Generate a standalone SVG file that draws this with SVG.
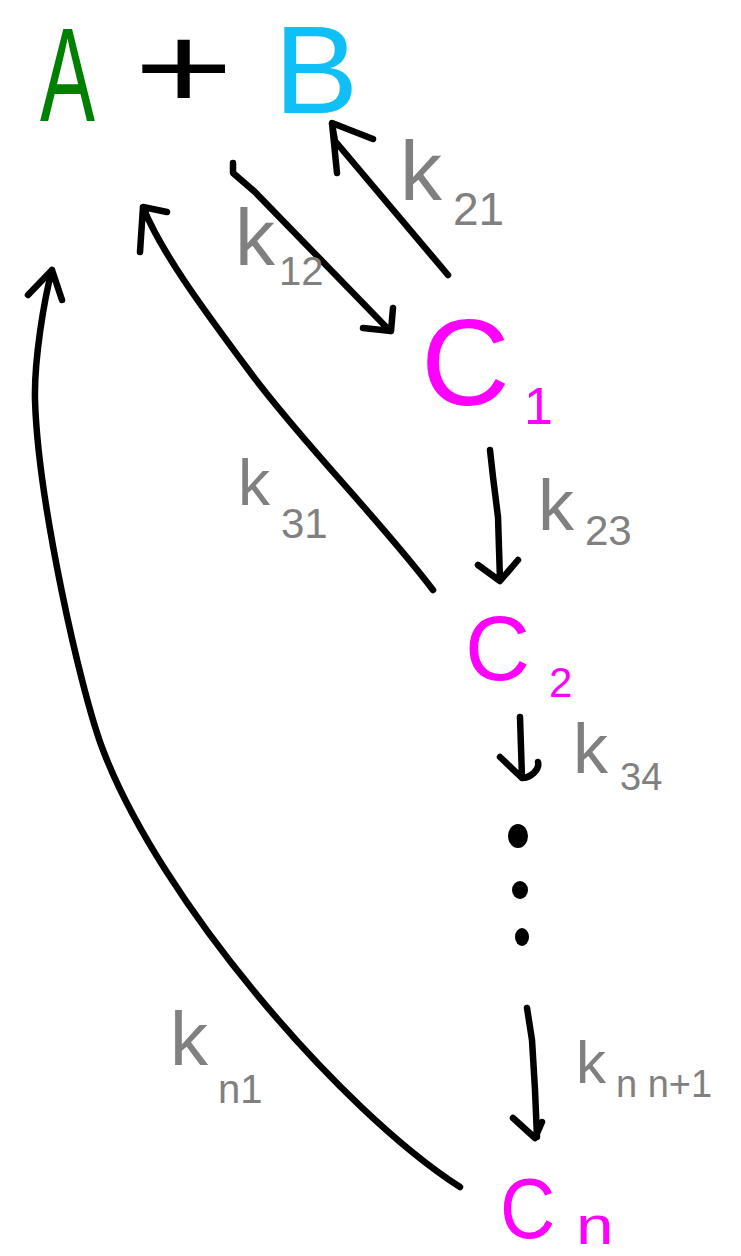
<svg xmlns="http://www.w3.org/2000/svg" width="741" height="1256" viewBox="0 0 741 1256">
<style>
.conn{fill:none;stroke:#000;stroke-width:6.5;stroke-linecap:round;stroke-linejoin:round}
.t{font-family:"Liberation Sans",Arial,sans-serif}
.lbl{font-family:"Liberation Sans",Arial,sans-serif;fill:#808080}
.c{fill:#ff00ff}
</style>
<rect width="741" height="1256" fill="#fff"/>
<g id="node-A"><text class="t" transform="translate(40,121) scale(0.62,1)" x="0" y="0" font-size="133" fill="#008000">A</text></g>
<g id="plus"><text class="t" transform="translate(134,108) scale(1.43,1)" x="0" y="0" font-size="119" fill="#000">+</text></g>
<g id="node-B"><text class="t" transform="translate(274,113) scale(1.02,1)" x="0" y="0" font-size="124" fill="#10bff5">B</text></g>
<g id="node-C1"><text class="t c" x="421" y="405" font-size="123">C<tspan x="524" y="424" font-size="52">1</tspan></text></g>
<g id="node-C2"><text class="t c" x="465" y="680" font-size="90">C<tspan x="549" y="697" font-size="42">2</tspan></text></g>
<g id="node-dots"><ellipse cx="518" cy="836" rx="10" ry="12"/><ellipse cx="520" cy="890" rx="8" ry="9"/><ellipse cx="522" cy="937" rx="7" ry="9"/></g>
<g id="node-Cn"><text class="t c" transform="translate(500,1238) scale(0.89,1)" x="0" y="0" font-size="86">C</text><text class="t c" transform="translate(576,1244) scale(1.3,1)" x="0" y="0" font-size="52">n</text></g>
<g id="connectors">
<path class="conn" d="M233,163 L233,173 L255,192 L390,331 M393,308 L391,331 L363,328"/>
<path class="conn" d="M448,275 L335,141 L332,124 M373,139 L332,123 L337,173"/>
<path class="conn" d="M433,590 C380,520 300,440 250,372 C200,305 160,250 143,207 M167,212 L143,207 L140,252"/>
<path class="conn" d="M490,450 L493,477 L498,517 L500,580 M478,565 L500,581 L518,560"/>
<path class="conn" d="M520,717 L522,778 M500,757 L522,778 C530,778 540,770 538,762"/>
<path class="conn" d="M527,1008 L532,1040 L535,1090 L537,1137 M513,1118 L535,1138 L542,1122"/>
<path class="conn" d="M460,1187 C340,1110 160,900 103,750 C80,690 38,500 35,400 C34,360 44,300 52,270 M28,295 L52,270 L62,300"/>
</g>
<g id="edge-labels">
<text class="lbl" x="400" y="200" font-size="84">k<tspan x="453" y="225" font-size="46">21</tspan></text>
<text class="lbl" x="235" y="265" font-size="80">k<tspan x="279" y="285" font-size="40">12</tspan></text>
<text class="lbl" x="538" y="530" font-size="72">k<tspan x="585" y="545" font-size="42">23</tspan></text>
<text class="lbl" x="238" y="505" font-size="64">k<tspan x="281" y="538" font-size="42">31</tspan></text>
<text class="lbl" x="573" y="773" font-size="70">k<tspan x="620" y="790" font-size="38">34</tspan></text>
<text class="lbl" x="576" y="1083" font-size="60">k<tspan x="616" y="1097" font-size="38">n n+1</tspan></text>
<text class="lbl" x="170" y="1065" font-size="76">k<tspan x="218" y="1103" font-size="40">n1</tspan></text>
</g>
</svg>
